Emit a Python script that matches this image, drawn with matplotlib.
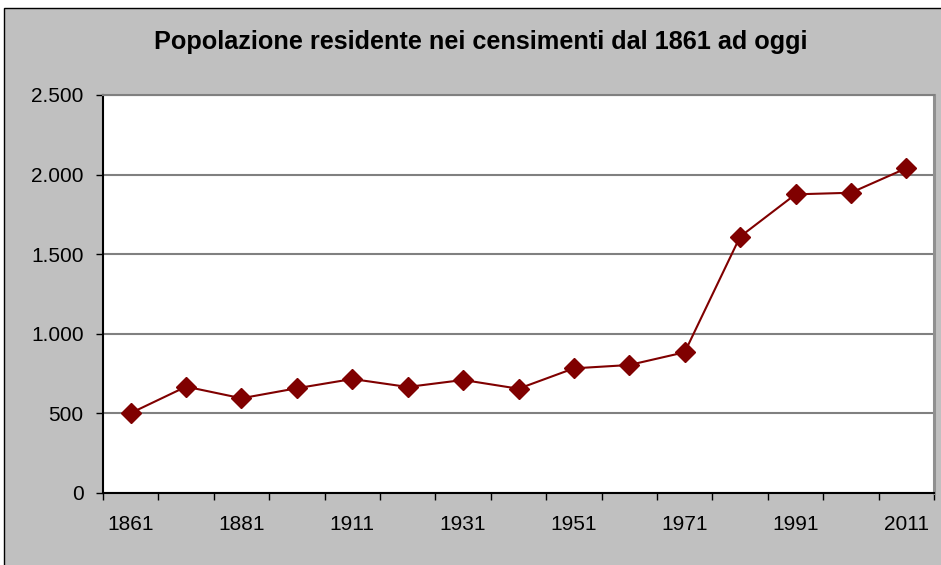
import matplotlib
matplotlib.use('Agg')
import matplotlib.pyplot as plt
from matplotlib.patches import Rectangle

# ---- data ----
years = ['1861', '1871', '1881', '1901', '1911', '1921', '1931', '1936',
         '1951', '1961', '1971', '1981', '1991', '2001', '2011']
population = [502, 668, 595, 658, 716, 666, 710, 655,
              783, 804, 884, 1610, 1876, 1886, 2040]
y_ticks = [0, 500, 1000, 1500, 2000, 2500]
y_tick_labels = ['0', '500', '1.000', '1.500', '2.000', '2.500']
title = 'Popolazione residente nei censimenti dal 1861 ad oggi'

plt.rcParams['font.family'] = ['Liberation Sans', 'DejaVu Sans']

W, H = 941, 565
fig = plt.figure(figsize=(W / 100, H / 100), dpi=100)
fig.patch.set_facecolor('white')

# gray chart background with black border (cropped on right/bottom)
bg = Rectangle((3.5 / W, -0.1), 1.2, (H - 7.5) / H + 0.1,
               transform=fig.transFigure, facecolor='#C0C0C0',
               edgecolor='black', linewidth=1.0, zorder=-10)
fig.patches.append(bg)

left, right, top, bottom = 103, 934, 95, 493
ax = fig.add_axes([left / W, (H - bottom) / H, (right - left) / W, (bottom - top) / H])
ax.set_facecolor('white')

x = list(range(len(years)))
ax.plot(x, population, color='#800000', linewidth=1.5, marker='D',
        markersize=10, markerfacecolor='#800000', markeredgecolor='#800000',
        zorder=3, clip_on=False)

ax.set_xlim(-0.5, len(years) - 0.5)
ax.set_ylim(0, 2500)

# y axis
ax.set_yticks(y_ticks)
ax.set_yticklabels(y_tick_labels)
ax.tick_params(axis='y', direction='out', length=5, width=1, color='black',
               labelsize=15, pad=9)
ax.grid(axis='y', color='#808080', linewidth=1.5, zorder=1)
ax.set_axisbelow(True)

# x axis: boundary ticks (major, no labels), labels at every other category center (minor)
ax.set_xticks([i - 0.5 for i in range(len(years) + 1)])
ax.set_xticklabels([])
ax.set_xticks(x[::2], minor=True)
ax.set_xticklabels(years[::2], minor=True)
ax.tick_params(axis='x', which='major', direction='out', length=5, width=1, color='black')
ax.tick_params(axis='x', which='minor', length=0, labelsize=15, pad=16)

for s in ['left', 'bottom']:
    ax.spines[s].set_color('black')
    ax.spines[s].set_linewidth(1.5)
ax.spines['top'].set_color('#808080')
ax.spines['top'].set_linewidth(1.5)
ax.spines['right'].set_color('#909090')
ax.spines['right'].set_linewidth(2.2)

fig.text(481 / W, 1 - 49.5 / H, title, ha='center', va='baseline',
         fontsize=18.2, fontweight='bold', color='black')

fig.savefig('out.png', dpi=100, facecolor=fig.get_facecolor())
